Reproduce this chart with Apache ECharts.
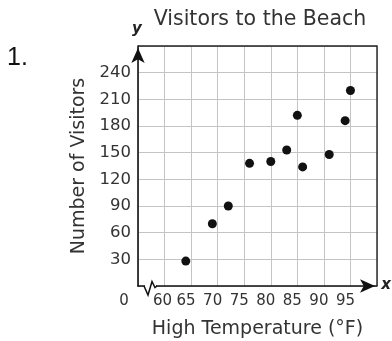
<!DOCTYPE html>
<html>
<head>
<meta charset="utf-8">
<script src="https://cdn.jsdelivr.net/npm/echarts@6/dist/echarts.min.js"></script>
<style>
html,body{margin:0;padding:0;background:#fff;}
#chart{width:392px;height:341px;}
</style>
</head>
<body>
<div id="chart"></div>
<script>
// Data
const temperatures = [64, 69, 72, 76, 80, 83, 85, 86, 91, 94, 95];
const visitors     = [28, 70, 90, 138, 140, 153, 192, 134, 148, 186, 220];
// Tick labels (x axis broken: first tick stands for 0)
const xTickLabels = ['0', '60', '65', '70', '75', '80', '85', '90', '95', ''];
const yTickLabels = ['', '30', '60', '90', '120', '150', '180', '210', '240', ''];
const titleText = 'Visitors to the Beach';
const xName = 'High Temperature (°F)';
const yName = 'Number of Visitors';

const X_MIN = 55, X_MAX = 100, X_STEP = 5;
const Y_MIN = 0, Y_MAX = 270, Y_STEP = 30;

const points = temperatures.map((t, i) => [t, visitors[i]]);
const textColor = '#333';
const font = 'DejaVu Sans';

const chart = echarts.init(document.getElementById('chart'), null, {renderer: 'canvas'});
chart.setOption({
  animation: false,
  backgroundColor: '#fff',
  title: {
    text: titleText,
    left: 255, top: 4,
    textAlign: 'center',
    textStyle: {fontFamily: font, fontSize: 20.5, fontWeight: 'normal', color: textColor}
  },
  grid: {
    left: 138, right: 15, top: 46, bottom: 55,
    show: false,
    containLabel: false,
    outerBoundsMode: 'none'
  },
  xAxis: {
    type: 'value', min: X_MIN, max: X_MAX, interval: X_STEP,
    name: xName, nameLocation: 'middle', nameGap: 34,
    nameTextStyle: {fontFamily: font, fontSize: 19, color: textColor},
    axisLine: {show: true, onZero: false, lineStyle: {color: '#111', width: 1.6},
      symbol: ['none', 'arrow'], symbolSize: [10, 15], symbolOffset: [0, -2]},
    axisTick: {show: false},
    splitLine: {show: true, lineStyle: {color: '#c4c4c4', width: 1}},
    axisLabel: {
      margin: 8,
      formatter: function (v) {
        const idx = Math.round((v - X_MIN) / X_STEP);
        const s = xTickLabels[idx] || '';
        if (!s) return '';
        if (idx === 0) return '{z|' + s + '}';
        if (idx === 1) return '{f|' + s + '}';
        return '{n|' + s + '}';
      },
      rich: {
        z: {fontFamily: font, fontSize: 15, color: textColor, padding: [0, 28, 0, 0]},
        f: {fontFamily: font, fontSize: 15, color: textColor, padding: [0, 4, 0, 0]},
        n: {fontFamily: font, fontSize: 15, color: textColor, padding: [0, 10, 0, 0]}
      }
    }
  },
  yAxis: {
    type: 'value', min: Y_MIN, max: Y_MAX, interval: Y_STEP,
    name: yName, nameLocation: 'middle', nameGap: 44, nameRotate: 90,
    nameTextStyle: {fontFamily: font, fontSize: 19, color: textColor},
    axisLine: {show: true, onZero: false, lineStyle: {color: '#111', width: 1.6},
      symbol: ['none', 'arrow'], symbolSize: [10, 15], symbolOffset: [0, -2]},
    axisTick: {show: false},
    splitLine: {show: true, lineStyle: {color: '#c4c4c4', width: 1}},
    axisLabel: {
      margin: 7, fontFamily: font, fontSize: 16.5, color: textColor,
      formatter: function (v) {
        const idx = Math.round((v - Y_MIN) / Y_STEP);
        return yTickLabels[idx] || '';
      }
    }
  },
  series: [{
    type: 'scatter',
    data: points,
    symbol: 'circle',
    symbolSize: 9,
    itemStyle: {color: '#111', opacity: 1},
    z: 10
  }]
});

// Decorations: frame, axis break zigzag, axis letters, problem number
const o = chart.convertToPixel({gridIndex: 0}, [X_MIN, Y_MIN]);
const xEnd = chart.convertToPixel({gridIndex: 0}, [X_MAX, Y_MIN]);
const yEnd = chart.convertToPixel({gridIndex: 0}, [X_MIN, Y_MAX]);
chart.setOption({
  graphic: [
    {type: 'polyline', shape: {points: [[o[0], yEnd[1]], [xEnd[0], yEnd[1]], [xEnd[0], o[1]]]},
     style: {stroke: '#222', lineWidth: 1.4, fill: null}, z: 5},
    {type: 'line', shape: {x1: o[0] + 7, y1: o[1], x2: o[0] + 18, y2: o[1]},
     style: {stroke: '#fff', lineWidth: 3}, z: 100},
    {type: 'polyline', shape: {points: [
        [o[0] + 6, o[1]], [o[0] + 10, o[1] + 9], [o[0] + 14, o[1] - 4.5],
        [o[0] + 17, o[1] + 1.5], [o[0] + 19, o[1]]]},
     style: {stroke: '#111', lineWidth: 1.5, fill: null}, z: 101},
    {type: 'text', x: xEnd[0] + 9, y: xEnd[1] - 1,
     style: {text: 'x', font: 'italic bold 15px "DejaVu Sans"', fill: '#222',
       textAlign: 'center', textVerticalAlign: 'middle'}, z: 100},
    {type: 'text', x: yEnd[0] - 1, y: yEnd[1] - 17,
     style: {text: 'y', font: 'italic bold 15px "DejaVu Sans"', fill: '#222',
       textAlign: 'center', textVerticalAlign: 'middle'}, z: 100},
    {type: 'text', x: 7, y: 58,
     style: {text: '1.', font: '25px "Liberation Sans"', fill: '#111',
       textAlign: 'left', textVerticalAlign: 'middle'}, z: 100}
  ]
});
</script>
</body>
</html>
